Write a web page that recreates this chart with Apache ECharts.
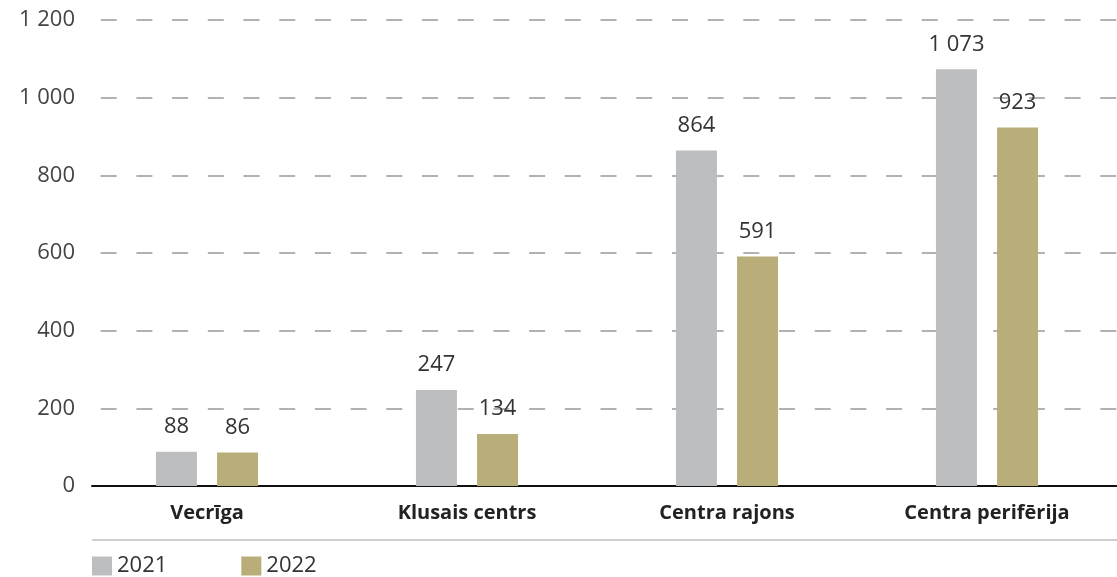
<!DOCTYPE html>
<html>
<head>
<meta charset="utf-8">
<script src="https://cdn.jsdelivr.net/npm/echarts@6/dist/echarts.min.js"></script>
<style>
  html, body { margin: 0; padding: 0; background: #fff; }
  #chart { width: 1117px; height: 577px; }
</style>
</head>
<body>
<div id="chart"></div>
<script>
// dati no attēla
var categories = ["Vecrīga", "Klusais centrs", "Centra rajons", "Centra perifērija"];
var values2021 = [88, 247, 864, 1073];
var values2022 = [86, 134, 591, 923];
var seriesNames = ["2021", "2022"];

var fontFamily = "'Open Sans', 'DejaVu Sans', sans-serif";

// tūkstošu atdalītājs ar atstarpi
function fmt(v) {
  return String(v).replace(/\B(?=(\d{3})+(?!\d))/g, " ");
}

var chart = echarts.init(document.getElementById("chart"));

var barLabel = {
  show: true,
  position: "top",
  distance: 14,
  fontSize: 22,
  color: "#333",
  fontFamily: fontFamily,
  formatter: function (p) { return fmt(p.value); }
};

var option = {
  animation: false,
  color: ["#bdbec0", "#b9ae79"],
  grid: [
    // fons: režģis un ass līnija
    { left: 92, right: 0, top: 20, bottom: 91 },
    // stabiņi
    { left: 77, width: 1042, top: 20, bottom: 91 }
  ],
  legend: {
    left: 92,
    bottom: 0,
    padding: 0,
    itemWidth: 20,
    itemHeight: 19,
    itemGap: 74,
    icon: "rect",
    textStyle: { fontSize: 22, color: "#333", fontFamily: fontFamily },
    data: seriesNames
  },
  xAxis: [
    {
      gridIndex: 0,
      type: "value",
      min: 0,
      max: 1,
      axisLine: { show: true, onZero: true, lineStyle: { color: "#111", width: 2 } },
      axisTick: { show: false },
      axisLabel: { show: false },
      splitLine: { show: false }
    },
    {
      gridIndex: 1,
      type: "category",
      data: categories,
      axisLine: { show: false },
      axisTick: { show: false },
      axisLabel: {
        margin: 17,
        fontSize: 20,
        fontWeight: "bold",
        color: "#222",
        fontFamily: fontFamily
      }
    }
  ],
  yAxis: [
    {
      gridIndex: 0,
      type: "value",
      min: 0,
      max: 1200,
      interval: 200,
      axisLine: { show: false },
      axisTick: { show: false },
      axisLabel: {
        margin: 17,
        fontSize: 22,
        color: "#444",
        fontFamily: fontFamily,
        formatter: fmt
      },
      splitLine: {
        lineStyle: { color: "#999", width: 1.5, type: [16, 19.7], dashOffset: 27 }
      }
    },
    {
      gridIndex: 1,
      type: "value",
      min: 0,
      max: 1200,
      interval: 200,
      show: false,
      splitLine: { show: false }
    }
  ],
  graphic: [
    {
      type: "line",
      shape: { x1: 92, y1: 540, x2: 1117, y2: 540 },
      style: { stroke: "#cfcfcf", lineWidth: 2 }
    }
  ],
  series: [
    {
      name: seriesNames[0],
      type: "bar",
      xAxisIndex: 1,
      yAxisIndex: 1,
      barWidth: 41,
      barGap: "49%",
      data: values2021,
      label: barLabel
    },
    {
      name: seriesNames[1],
      type: "bar",
      xAxisIndex: 1,
      yAxisIndex: 1,
      barWidth: 41,
      data: values2022,
      label: barLabel
    }
  ]
};

chart.setOption(option);
window.onresize = function () {
  chart.resize();
};
</script>
</body>
</html>
